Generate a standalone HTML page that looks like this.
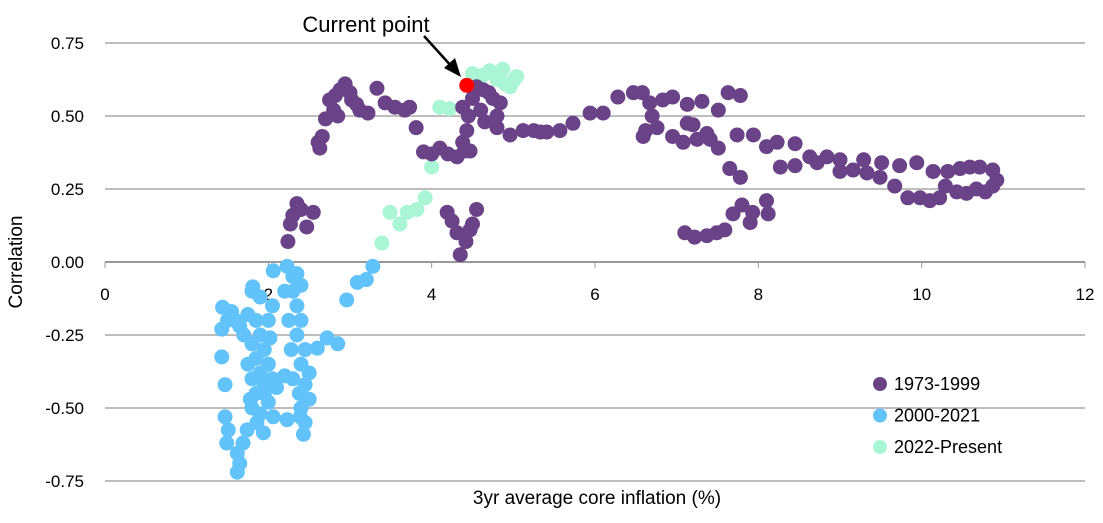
<!DOCTYPE html>
<html><head><meta charset="utf-8"><style>
body{margin:0;background:#fff;}
svg{display:block;font-family:"Liberation Sans","DejaVu Sans",sans-serif;}
</style></head><body>
<svg id="chart" width="1103" height="523" viewBox="0 0 1103 523" xmlns="http://www.w3.org/2000/svg">
<g id="grid"></g>
<g id="ticks"></g>
<g id="marks"></g>
<text x="22" y="262" font-size="19" text-anchor="middle" transform="rotate(-90 22 262)" fill="#000">Correlation</text>
<text x="597" y="504" font-size="19" text-anchor="middle" fill="#000">3yr average core inflation (%)</text>
<text x="366" y="32" font-size="22" text-anchor="middle" fill="#000">Current point</text>
<g>
<line x1="424" y1="36" x2="453" y2="68" stroke="#000" stroke-width="2.5"/>
<polygon points="461,77 444,68 455,58" fill="#000"/>
</g>
<g id="legend"></g>
</svg>
<script>
const xTicks=[0,2,4,6,8,10,12];
const yTicks=[0.75,0.5,0.25,0,-0.25,-0.5,-0.75];
const yTickLabels=["0.75","0.50","0.25","0.00","-0.25","-0.50","-0.75"];
const seriesNames=["1973-1999","2000-2021","2022-Present"];
const seriesColors=["#6a4287","#62c3fa","#a9f5d4"];
const s1973=[[2.61,0.41],[2.66,0.43],[2.63,0.39],[2.70,0.49],[2.75,0.555],[2.82,0.57],[2.94,0.61],[2.88,0.59],[2.8,0.52],[2.85,0.5],[3.02,0.555],[3.12,0.52],[3.22,0.51],[3.33,0.595],[3.43,0.545],[3.55,0.53],[3.67,0.52],[3.73,0.53],[3.81,0.46],[3.0,0.58],[3.08,0.54],
[3.9,0.377],[4.0,0.37],[4.1,0.39],[4.2,0.37],[4.31,0.36],[4.4,0.38],[4.47,0.38],[4.43,0.45],[4.38,0.41],[4.45,0.5],[4.38,0.53],[4.5,0.56],[4.55,0.6],[4.63,0.59],[4.7,0.58],[4.75,0.56],[4.84,0.545],[4.8,0.5],[4.8,0.46],[4.65,0.48],[4.6,0.52],[4.96,0.435],[5.12,0.45],[5.25,0.45],[5.33,0.445],
[2.24,0.07],[2.27,0.13],[2.35,0.2],[2.3,0.16],[2.4,0.18],[2.47,0.12],[2.55,0.17],
[4.19,0.17],[4.25,0.14],[4.31,0.1],[4.35,0.025],[4.42,0.07],[4.47,0.11],[4.55,0.18],[4.5,0.13],
[5.41,0.445],[5.57,0.45],[5.73,0.475],[5.94,0.51],[6.1,0.51],[6.28,0.565],[6.47,0.58],[6.58,0.58],[6.67,0.545],[6.83,0.555],[6.95,0.565],[7.13,0.54],[7.31,0.55],[7.51,0.52],[7.63,0.58],[7.78,0.57],
[6.59,0.43],[6.62,0.45],[6.76,0.46],[6.7,0.5],[6.95,0.43],[7.08,0.41],[7.25,0.42],[7.41,0.42],[7.51,0.39],[7.13,0.475],[7.2,0.47],[7.37,0.44],[7.74,0.435],[7.94,0.435],[8.1,0.395],[8.23,0.41],[8.45,0.405],
[7.65,0.32],[7.78,0.29],[8.27,0.325],[8.45,0.33],[8.63,0.36],[8.72,0.34],[8.84,0.36],[9.0,0.35],[9.0,0.31],[9.16,0.315],[9.29,0.35],[9.33,0.305],[9.51,0.34],[9.49,0.29],[9.67,0.26],[9.73,0.33],[9.94,0.34],[9.83,0.22],[9.98,0.22],[10.1,0.21],[10.14,0.31],[10.22,0.22],[10.29,0.26],[10.32,0.31],[10.47,0.32],[10.43,0.24],[10.55,0.235],[10.59,0.325],[10.71,0.325],[10.67,0.25],[10.78,0.24],[10.87,0.315],[10.92,0.28],[10.87,0.26],
[7.1,0.10],[7.22,0.085],[7.37,0.09],[7.49,0.1],[7.59,0.11],[7.69,0.165],[7.8,0.195],[7.9,0.135],[7.93,0.17],[8.1,0.21],[8.12,0.165]];
const s2000=[[2.96,-0.13],[3.09,-0.07],[3.2,-0.06],[3.28,-0.015],[2.6,-0.295],[2.72,-0.26],[2.85,-0.28],
[1.44,-0.155],[1.43,-0.23],[1.43,-0.325],[1.47,-0.42],[1.47,-0.53],[1.51,-0.575],[1.49,-0.62],[1.62,-0.655],[1.65,-0.69],[1.62,-0.72],[1.69,-0.62],[1.74,-0.575],[1.86,-0.55],[1.94,-0.585],[2.06,-0.53],[2.23,-0.54],[2.39,-0.53],[2.43,-0.59],
[2.06,-0.03],[2.23,-0.015],[2.35,-0.04],[1.81,-0.085],
[1.8,-0.1],[1.75,-0.18],[1.85,-0.2],[1.7,-0.25],[1.8,-0.28],[1.9,-0.25],[1.95,-0.3],[1.85,-0.33],[1.75,-0.35],[1.8,-0.4],[1.9,-0.38],[2.0,-0.35],[1.85,-0.45],[1.95,-0.45],[1.8,-0.5],[1.9,-0.52],[2.0,-0.48],[2.05,-0.4],[2.0,-0.2],[2.05,-0.15],[1.6,-0.2],[1.5,-0.2],[1.55,-0.17],[1.65,-0.22],[2.1,-0.43],[2.2,-0.39],[2.3,-0.1],[2.35,-0.15],[2.4,-0.2],[2.35,-0.25],[2.45,-0.3],[2.4,-0.35],[2.5,-0.38],[2.45,-0.42],[2.5,-0.47],[2.4,-0.5],[2.45,-0.55],[2.3,-0.4],[2.25,-0.2],[2.3,-0.05],[2.4,-0.08],[2.2,-0.1],[2.28,-0.3],[2.38,-0.45],[1.9,-0.12],[1.95,-0.42],[1.78,-0.47],[2.02,-0.26]];
const s2022=[[3.92,0.22],[3.82,0.18],[3.7,0.17],[3.61,0.13],[3.49,0.17],[3.39,0.065],[4.0,0.325],[4.1,0.53],[4.22,0.525],[4.5,0.645],[4.71,0.655],[4.87,0.66],[5.04,0.635],[4.96,0.6],[4.8,0.625],[4.63,0.64],[5.0,0.62],[4.9,0.61]];
const currentPoint=[4.43,0.605];
const NS="http://www.w3.org/2000/svg";
const xs=v=>105+v*(980/12);
const ys=v=>262-v*292;
function mk(tag,parent){const e=document.createElementNS(NS,tag);parent.appendChild(e);return e;}
const grid=document.getElementById('grid'),ticks=document.getElementById('ticks'),marks=document.getElementById('marks'),legend=document.getElementById('legend');
yTicks.forEach((v,i)=>{
 const l=mk('line',grid);
 
 
 l.setAttribute('x1',105);l.setAttribute('x2',1085);l.setAttribute('y1',ys(v));l.setAttribute('y2',ys(v));
 l.setAttribute('stroke',v===0?'#999':'#bdbdbd');l.setAttribute('stroke-width',2);
 const t=mk('text',ticks);
 
 
 t.setAttribute('x',84);t.setAttribute('y',ys(v)+6);t.setAttribute('text-anchor','end');t.setAttribute('font-size','17');
 t.textContent=yTickLabels[i];
});
xTicks.forEach(v=>{
 const l=mk('line',grid);
 
 
 l.setAttribute('x1',xs(v));l.setAttribute('x2',xs(v));l.setAttribute('y1',262);l.setAttribute('y2',268);l.setAttribute('stroke','#999');
 const t=mk('text',ticks);
 
 
 t.setAttribute('x',xs(v));t.setAttribute('y',300);t.setAttribute('text-anchor','middle');t.setAttribute('font-size','17');
 t.textContent=String(v);
});
function plot(arr,color,name){
 arr.forEach(p=>{
  const c=mk('circle',marks);
  
  
  c.setAttribute('cx',xs(p[0]));c.setAttribute('cy',ys(p[1]));c.setAttribute('r',7.5);c.setAttribute('fill',color);
 });
}
plot(s2022,seriesColors[2],'point-2022-present');
plot(s2000,seriesColors[1],'point-2000-2021');
plot(s1973,seriesColors[0],'point-1973-1999');
const cp=mk('circle',marks);


cp.setAttribute('cx',xs(currentPoint[0]));cp.setAttribute('cy',ys(currentPoint[1]));cp.setAttribute('r',7.5);cp.setAttribute('fill','#ff0000');
seriesNames.forEach((n,i)=>{
 const y=384+i*31.5;
 const c=mk('circle',legend);
 
 
 c.setAttribute('cx',880);c.setAttribute('cy',y);c.setAttribute('r',7);c.setAttribute('fill',seriesColors[i]);
 const t=mk('text',legend);
 
 
 t.setAttribute('x',894);t.setAttribute('y',y+6);t.setAttribute('font-size','18');
 t.textContent=n;
});
</script>
</body></html>
